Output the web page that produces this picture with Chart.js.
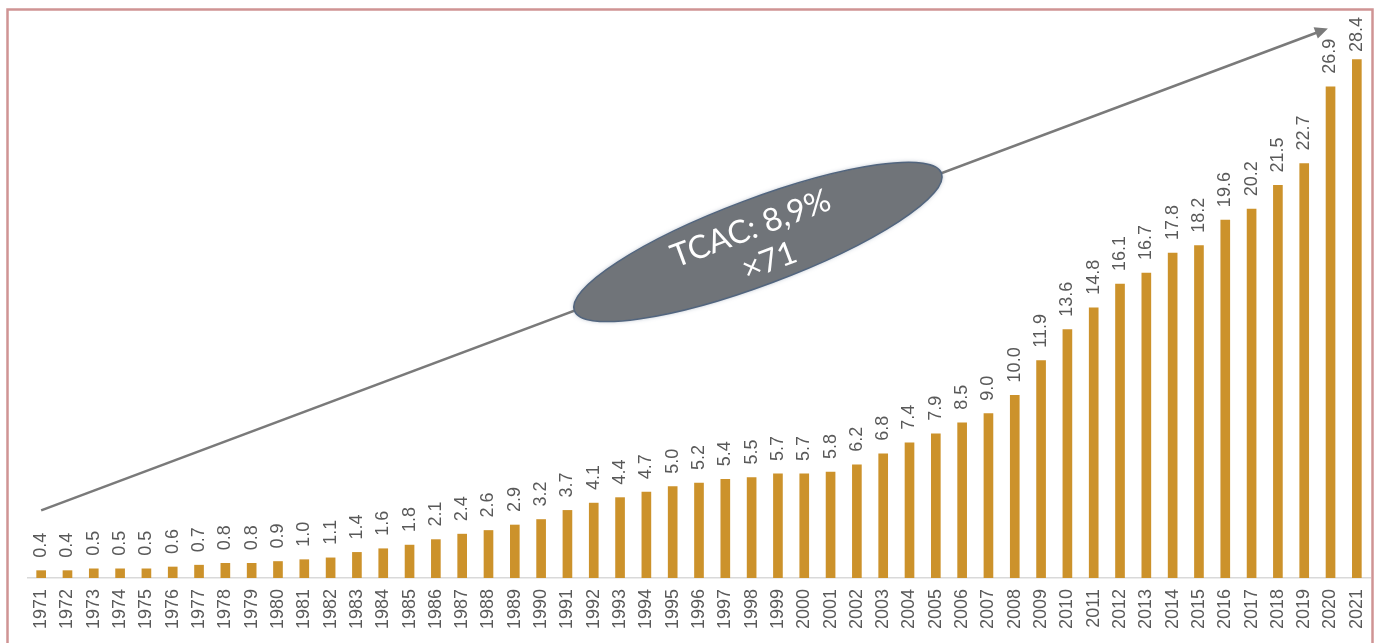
<!DOCTYPE html>
<html>
<head>
<meta charset="utf-8">
<script src="https://cdn.jsdelivr.net/npm/chart.js@4.4.1/dist/chart.umd.min.js"></script>
<style>
  html, body { margin: 0; padding: 0; background: #fff; }
  #wrap { position: relative; width: 1381px; height: 643px; }
</style>
</head>
<body>
<div id="wrap"><canvas id="myChart"></canvas></div>
<script>
var years = ["1971","1972","1973","1974","1975","1976","1977","1978","1979","1980",
  "1981","1982","1983","1984","1985","1986","1987","1988","1989","1990",
  "1991","1992","1993","1994","1995","1996","1997","1998","1999","2000",
  "2001","2002","2003","2004","2005","2006","2007","2008","2009","2010",
  "2011","2012","2013","2014","2015","2016","2017","2018","2019","2020","2021"];
var values = [0.4,0.4,0.5,0.5,0.5,0.6,0.7,0.8,0.8,0.9,
  1.0,1.1,1.4,1.6,1.8,2.1,2.4,2.6,2.9,3.2,
  3.7,4.1,4.4,4.7,5.0,5.2,5.4,5.5,5.7,5.7,
  5.8,6.2,6.8,7.4,7.9,8.5,9.0,10.0,11.9,13.6,
  14.8,16.1,16.7,17.8,18.2,19.6,20.2,21.5,22.7,26.9,28.4];
var growthText = ["TCAC: 8,9%", "×71"];

var barColor = "#cc922b";
var textGrey = "#595959";

// value labels above each bar, written bottom-to-top
var valueLabels = {
  id: "valueLabels",
  afterDatasetsDraw: function(chart) {
    var ctx = chart.ctx;
    var meta = chart.getDatasetMeta(0);
    ctx.save();
    ctx.font = "18px 'Liberation Sans', Arial, sans-serif";
    ctx.fillStyle = textGrey;
    ctx.textAlign = "left";
    ctx.textBaseline = "middle";
    meta.data.forEach(function(bar, i) {
      var txt = values[i].toFixed(1);
      var w = ctx.measureText(txt).width;
      var start = bar.y - 13;
      if (start - w < 17) start = 17 + w;
      ctx.save();
      ctx.translate(bar.x, start);
      ctx.rotate(-Math.PI / 2);
      ctx.fillText(txt, 0, 0);
      ctx.restore();
    });
    ctx.restore();
  }
};

// growth arrow with the oval callout + frame
var growthArrow = {
  id: "growthArrow",
  afterDraw: function(chart) {
    var ctx = chart.ctx;
    var x = chart.scales.x, y = chart.scales.y;
    var x0 = x.getPixelForValue(0), y0 = y.getPixelForValue(3.7);
    var x1 = x.getPixelForValue(48.9), y1 = y.getPixelForValue(30.1);
    var ang = Math.atan2(y1 - y0, x1 - x0);

    ctx.save();
    ctx.strokeStyle = "#7a7a7a";
    ctx.fillStyle = "#7a7a7a";
    ctx.lineWidth = 2.5;
    ctx.beginPath();
    ctx.moveTo(x0, y0);
    ctx.lineTo(x1 - 8 * Math.cos(ang), y1 - 8 * Math.sin(ang));
    ctx.stroke();
    ctx.translate(x1, y1);
    ctx.rotate(ang);
    ctx.beginPath();
    ctx.moveTo(0, 0);
    ctx.lineTo(-13, -6);
    ctx.lineTo(-13, 6);
    ctx.closePath();
    ctx.fill();
    ctx.restore();

    // oval sitting on the arrow
    var t = 27.24 / 48.9;
    var cx = x0 + (x1 - x0) * t, cy = y0 + (y1 - y0) * t;
    ctx.save();
    ctx.translate(cx, cy);
    ctx.rotate(ang);
    ctx.shadowColor = "rgba(80,100,130,0.5)";
    ctx.shadowBlur = 4;
    ctx.beginPath();
    ctx.ellipse(0, 0, 196, 43, 0, 0, Math.PI * 2);
    ctx.fillStyle = "#707479";
    ctx.fill();
    ctx.shadowBlur = 0;
    ctx.lineWidth = 1.5;
    ctx.strokeStyle = "#52657e";
    ctx.stroke();
    ctx.fillStyle = "#ffffff";
    ctx.font = "32px Lato, 'Open Sans', sans-serif";
    ctx.textAlign = "center";
    ctx.textBaseline = "middle";
    ctx.fillText(growthText[0], -2, -15);
    ctx.fillText(growthText[1], 4, 22);
    ctx.restore();

    // frame
    ctx.save();
    ctx.strokeStyle = "#cf9494";
    ctx.lineWidth = 2.5;
    ctx.strokeRect(7.5, 9.5, 1365, 660);
    ctx.restore();
  }
};

var chart = new Chart(document.getElementById("myChart"), {
  type: "bar",
  data: {
    labels: years,
    datasets: [{
      data: values,
      backgroundColor: barColor,
      barThickness: 9
    }]
  },
  options: {
    responsive: true,
    maintainAspectRatio: false,
    animation: false,
    layout: { padding: { left: 28, right: 11, top: 12, bottom: 3 } },
    plugins: { legend: { display: false }, tooltip: { enabled: false } },
    scales: {
      x: {
        // rotated labels fit inside their own column, no extra side room
        afterFit: function(scale) {
          scale.paddingLeft = 0;
          scale.paddingRight = 0;
        },
        grid: { display: false, drawTicks: false },
        border: { display: true, color: "#d9d9d9", width: 1.5 },
        ticks: {
          autoSkip: false,
          minRotation: 90,
          maxRotation: 90,
          padding: 11,
          color: textGrey,
          font: { family: "'Liberation Sans', Arial, sans-serif", size: 18 }
        }
      },
      y: {
        display: false,
        min: 0,
        max: 31
      }
    }
  },
  plugins: [valueLabels, growthArrow]
});
</script>
</body>
</html>
